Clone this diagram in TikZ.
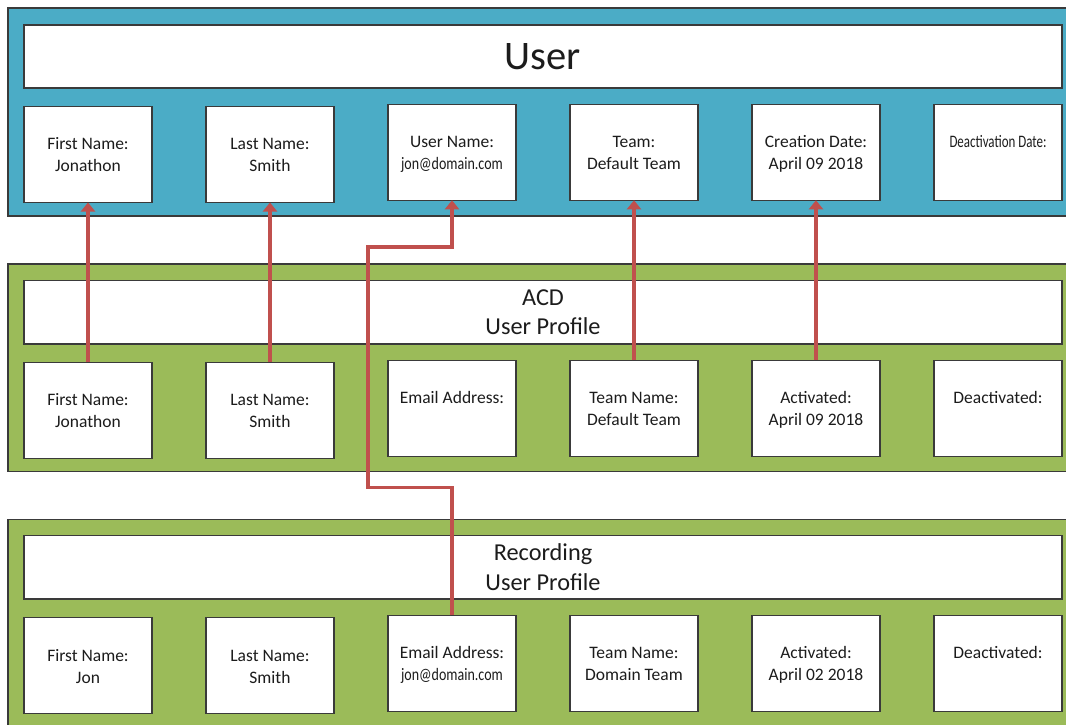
\documentclass[tikz,border=0pt]{standalone}
\usepackage{fontspec}
\usepackage{graphicx}
\setmainfont{Carlito}
\usetikzlibrary{arrows.meta}
\definecolor{panelblue}{HTML}{4BACC6}
\definecolor{panelgreen}{HTML}{9BBB59}
\definecolor{linkred}{HTML}{C0504D}
\definecolor{edgegray}{HTML}{3A3A3A}
\definecolor{ink}{HTML}{1C1C1C}
\newcommand{\fld}[2]{\rule{0pt}{19pt}#1\\#2\rule[-6.5pt]{0pt}{6.5pt}}
\begin{document}
\begin{tikzpicture}[x=1pt,y=-1pt,
  panel/.style={draw=edgegray, line width=1.3pt},
  titlebox/.style={draw=edgegray, fill=white, line width=1.3pt, minimum width=1038pt,
    minimum height=63pt, inner sep=0pt, outer sep=0pt, align=center, text=ink},
  field/.style={draw=edgegray, fill=white, line width=1.3pt, minimum width=128pt,
    minimum height=96pt, inner sep=0pt, outer sep=0pt, align=center, text=ink,
    font=\fontsize{17.5}{22}\selectfont},
  link/.style={draw=linkred, line width=3.6pt, -{Triangle[width=14pt,length=9pt]}}
]
\clip (0,0) rectangle (1066,725);
\fill[white] (0,0) rectangle (1066,725);

% panels
\draw[panel, fill=panelblue]  (8,8) rectangle (1080,216);
\draw[panel, fill=panelgreen] (8,264) rectangle (1080,471.7);
\draw[panel, fill=panelgreen] (8,519.3) rectangle (1080,740);

% titles
\node[titlebox, font=\fontsize{40.5}{48}\selectfont] (ut) at (543,56.5) {User};
\node[titlebox, minimum height=63.3pt, font=\fontsize{24.3}{29.5}\selectfont] (at) at (543,312.3) {ACD\\User Profile};
\node[titlebox, minimum height=63.3pt, font=\fontsize{24.3}{29.5}\selectfont] (rt) at (543,567.3) {Recording\\User Profile};

% User row
\node[field] (u1) at (88,154.5) {\fld{First Name:}{Jonathon}};
\node[field] (u2) at (270,154.5) {\fld{Last Name:}{Smith}};
\node[field] (u3) at (452,152.3) {\fld{User Name:}{\scalebox{0.8}[1]{jon@domain.com}}};
\node[field] (u4) at (634,152.3) {\fld{Team:}{Default Team}};
\node[field] (u5) at (816,152.3) {\fld{Creation Date:}{April 09 2018}};
\node[field] (u6) at (998,152.3) {\fld{\scalebox{0.74}[1]{Deactivation Date:}}{}};

% ACD row
\node[field] (a1) at (88,410.3) {\fld{First Name:}{Jonathon}};
\node[field] (a2) at (270,410.3) {\fld{Last Name:}{Smith}};
\node[field] (a3) at (452,408.3) {\fld{Email Address:}{}};
\node[field] (a4) at (634,408.3) {\fld{Team Name:}{Default Team}};
\node[field] (a5) at (816,408.3) {\fld{Activated:}{April 09 2018}};
\node[field] (a6) at (998,408.3) {\fld{Deactivated:}{}};

% Recording row
\node[field] (r1) at (88,665.8) {\fld{First Name:}{Jon}};
\node[field] (r2) at (270,665.8) {\fld{Last Name:}{Smith}};
\node[field] (r3) at (452,663.4) {\fld{Email Address:}{\scalebox{0.8}[1]{jon@domain.com}}};
\node[field] (r4) at (634,663.4) {\fld{Team Name:}{Domain Team}};
\node[field] (r5) at (816,663.4) {\fld{Activated:}{April 02 2018}};
\node[field] (r6) at (998,663.4) {\fld{Deactivated:}{}};

% links
\draw[link] (a1.north) -- (u1.south);
\draw[link] (a2.north) -- (u2.south);
\draw[link] (a4.north) -- (u4.south);
\draw[link] (a5.north) -- (u5.south);
\coordinate (e1) at (367.7,487.3);
\coordinate (e2) at (367.7,246.7);
\draw[link] (r3.north) |- (e1) -- (e2) -| (u3.south);
\end{tikzpicture}
\end{document}
